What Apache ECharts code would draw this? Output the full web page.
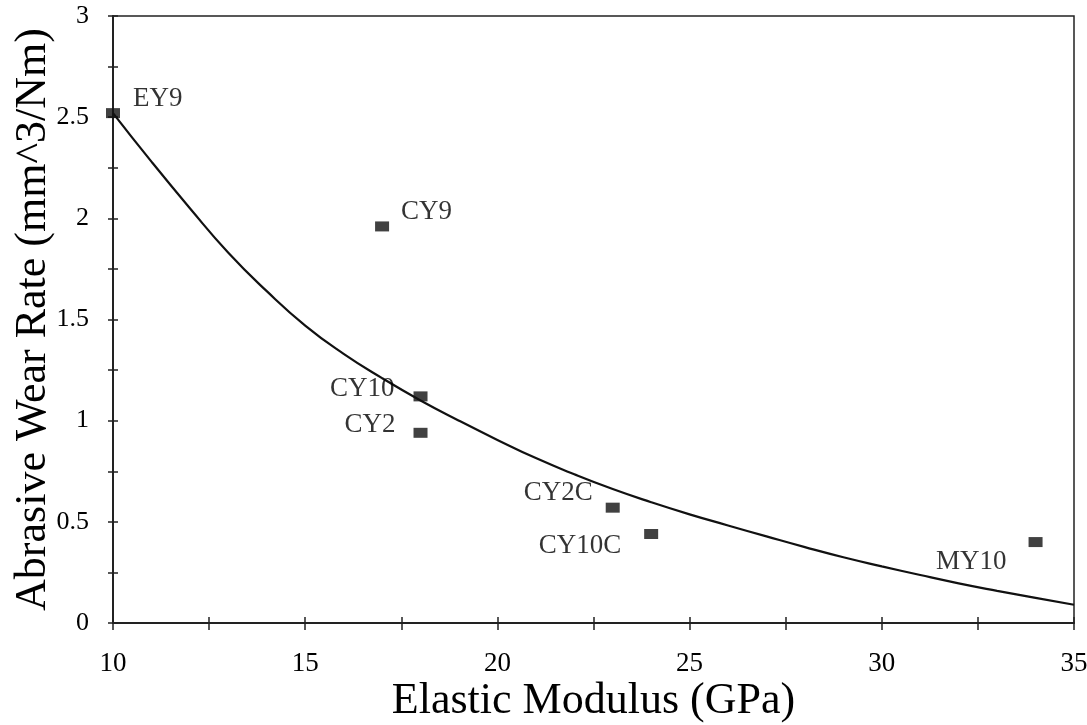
<!DOCTYPE html>
<html>
<head>
<meta charset="utf-8">
<script src="https://cdn.jsdelivr.net/npm/echarts@6/dist/echarts.min.js"></script>
<style>
  html, body { margin: 0; padding: 0; background: #fff; }
  #chart { width: 1087px; height: 725px; }
</style>
</head>
<body>
<div id="chart"></div>
<script>
// ---- data ----
const materials = ['EY9', 'CY9', 'CY10', 'CY2', 'CY2C', 'CY10C', 'MY10'];
const modulus   = [10, 17, 18, 18, 23, 24, 34];
const wearRate  = [2.52, 1.96, 1.12, 0.94, 0.57, 0.44, 0.40];

// fitted trend curve
const curveX = [10, 11, 12, 13, 14, 15, 16, 17, 18, 19, 20, 21, 22, 23, 24, 25, 26, 27, 28, 29, 30, 31, 32, 33, 34, 35];
const curveY = [2.52, 2.28, 2.05, 1.83, 1.64, 1.47, 1.33, 1.21, 1.10, 1.00, 0.905, 0.815, 0.735, 0.662, 0.597, 0.537, 0.482, 0.428, 0.375, 0.325, 0.28, 0.237, 0.196, 0.159, 0.124, 0.09];

const xTicks = [10, 15, 20, 25, 30, 35];
const yTicks = [0, 0.5, 1, 1.5, 2, 2.5, 3];

// label placement per point (style only)
const labelPlacement = [
  { position: 'right', offset: [8, -14] },
  { position: 'right', offset: [7, -15] },
  { position: 'left',  offset: [-14, -7] },
  { position: 'left',  offset: [-13, -8] },
  { position: 'left',  offset: [-8, -15] },
  { position: 'left',  offset: [-18, 12] },
  { position: 'left',  offset: [-17, 20] }
];

const FONT = 'Liberation Serif';
const INK = '#000000';
const LINE = '#222222';

const scatterData = materials.map((name, i) => ({
  name: name,
  value: [modulus[i], wearRate[i]],
  label: {
    show: true,
    formatter: name,
    position: labelPlacement[i].position,
    offset: labelPlacement[i].offset,
    distance: 5,
    fontFamily: FONT,
    fontSize: 27,
    color: INK
  }
}));
const curveData = curveX.map((x, i) => [x, curveY[i]]);

const xCommon = {
  type: 'value',
  min: xTicks[0],
  max: xTicks[xTicks.length - 1],
  interval: 5,
  position: 'bottom',
  splitLine: { show: false }
};
const yCommon = {
  type: 'value',
  min: yTicks[0],
  max: yTicks[yTicks.length - 1],
  interval: 0.5,
  position: 'left',
  splitLine: { show: false }
};

const chart = echarts.init(document.getElementById('chart'), null, { renderer: 'canvas' });
chart.setOption({
  backgroundColor: '#ffffff',
  animation: false,
  grid: {
    left: 113, right: 13, top: 16, bottom: 102,
    containLabel: false,
    outerBoundsMode: 'none',
    show: true, borderColor: LINE, borderWidth: 1.5, backgroundColor: 'transparent'
  },
  xAxis: [
    Object.assign({}, xCommon, {
      name: 'Elastic Modulus (GPa)',
      nameLocation: 'middle',
      nameGap: 56,
      nameMoveOverlap: false,
      nameTextStyle: { fontFamily: FONT, fontSize: 44, color: INK },
      axisLine: { show: true, lineStyle: { color: LINE, width: 2 } },
      axisTick: { show: true, inside: false, length: 7, lineStyle: { color: LINE, width: 1.5 } },
      minorTick: { show: true, splitNumber: 2, length: 7, lineStyle: { color: LINE, width: 1.5 } },
      axisLabel: { fontFamily: FONT, fontSize: 27, color: INK, margin: 27 }
    }),
    Object.assign({}, xCommon, {
      axisLine: { show: false },
      axisTick: { show: true, inside: true, length: 6, lineStyle: { color: LINE, width: 1.5 } },
      minorTick: { show: true, splitNumber: 2, length: 6, lineStyle: { color: LINE, width: 1.5 } },
      axisLabel: { show: false }
    })
  ],
  yAxis: [
    Object.assign({}, yCommon, {
      name: 'Abrasive Wear Rate (mm^3/Nm)',
      nameLocation: 'middle',
      nameGap: 58,
      nameMoveOverlap: false,
      nameTextStyle: { fontFamily: FONT, fontSize: 44, color: INK },
      axisLine: { show: true, lineStyle: { color: LINE, width: 2 } },
      axisTick: { show: true, inside: false, length: 5, lineStyle: { color: LINE, width: 1.5 } },
      minorTick: { show: true, splitNumber: 2, length: 5, lineStyle: { color: LINE, width: 1.5 } },
      axisLabel: { fontFamily: FONT, fontSize: 26, color: INK, margin: 24 }
    }),
    Object.assign({}, yCommon, {
      axisLine: { show: false },
      axisTick: { show: true, inside: true, length: 5, lineStyle: { color: LINE, width: 1.5 } },
      minorTick: { show: true, splitNumber: 2, length: 5, lineStyle: { color: LINE, width: 1.5 } },
      axisLabel: { show: false }
    })
  ],
  series: [
    {
      type: 'line',
      data: curveData,
      smooth: 0.5,
      showSymbol: false,
      symbol: 'none',
      lineStyle: { color: '#111', width: 2.2 },
      z: 2
    },
    {
      type: 'scatter',
      data: scatterData,
      symbol: 'rect',
      symbolSize: [14, 10],
      itemStyle: { color: '#111' },
      z: 3
    }
  ]
});
</script>
</body>
</html>
